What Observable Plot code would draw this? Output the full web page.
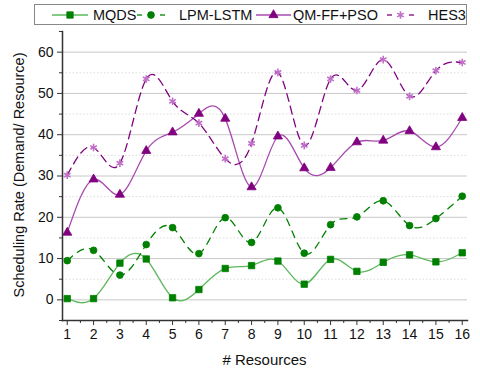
<!DOCTYPE html>
<html>
<head>
<meta charset="utf-8">
<script src="https://cdn.jsdelivr.net/npm/d3@7"></script>
<script src="https://cdn.jsdelivr.net/npm/@observablehq/plot@0.6"></script>
<style>
  html, body { margin: 0; padding: 0; background: #fff; }
  #wrap { position: relative; width: 480px; height: 371px; font-family: "Liberation Sans", Arial, sans-serif; }
  #legend { position: absolute; left: 0; top: 0; }
  #chart { position: absolute; left: 0; top: 0; }
</style>
</head>
<body>
<div id="wrap"><div id="chart"></div><div id="legend"></div></div>
<script>
const resources = [1,2,3,4,5,6,7,8,9,10,11,12,13,14,15,16];
const mqds  = [0.3,0.3,8.9,9.9,0.5,2.5,7.6,8.3,9.4,3.8,9.8,6.9,9.1,10.9,9.2,11.4];
const lpm   = [9.5,12.0,6.0,13.4,17.5,11.2,19.9,13.9,22.3,11.3,18.2,20.1,24.0,18.0,19.7,25.1];
const qm    = [16.3,29.2,25.5,36.1,40.6,45.1,43.9,27.3,39.6,31.9,32.0,38.2,38.6,40.9,37.0,44.1];
const hes3  = [30.2,36.9,33.1,53.5,48.1,42.8,34.2,37.9,55.1,37.4,53.5,50.7,58.2,49.3,55.5,57.5];
const seriesNames = ["MQDS", "LPM-LSTM", "QM-FF+PSO", "HES3"];
const yTicks = [0,10,20,30,40,50,60];
const yMinor = [-5,5,15,25,35,45,55,65];
const xMinor = [1.5,2.5,3.5,4.5,5.5,6.5,7.5,8.5,9.5,10.5,11.5,12.5,13.5,14.5,15.5];

const styles = [
  {values: mqds, line: "#5cb85c", mark: "#008000", dash: null, symbol: "square", r: 3.6, fill: true},
  {values: lpm,  line: "#008000", mark: "#008000", dash: "7,6", symbol: "circle", r: 3.4, fill: true},
  {values: qm,   line: "#a84bb0", mark: "#800080", dash: null, symbol: "triangle", r: 3.4, fill: true},
  {values: hes3, line: "#800080", mark: "#c070c8", dash: "8,5", symbol: "asterisk", r: 3.6, fill: false}
];

const marks = [
  Plot.ruleY(yTicks, {stroke: "#c8c8c8", strokeWidth: 1}),
  Plot.ruleY(yMinor.filter(v => v > -5 && v < 65), {stroke: "#dddddd", strokeWidth: 1, strokeDasharray: "1.5,2"}),
];
styles.forEach((s, i) => {
  const data = resources.map((x, j) => ({x, y: s.values[j]}));
  marks.push(Plot.line(data, {x: "x", y: "y", curve: "natural", stroke: s.line, strokeWidth: 1.3, strokeDasharray: s.dash || undefined}));
});
styles.forEach((s, i) => {
  const data = resources.map((x, j) => ({x, y: s.values[j]}));
  marks.push(Plot.dot(data, {x: "x", y: "y", symbol: s.symbol, r: s.r,
    fill: s.fill ? s.mark : "none", stroke: s.mark, strokeWidth: s.fill ? 0.8 : 1.6}));
});
marks.push(
  Plot.axisY({ticks: yTicks, tickSize: 5, tickPadding: 4, fontSize: 14, label: null, stroke: "#333", color: "#111"}),
  Plot.axisY({ticks: yMinor, tickSize: 3, text: null, label: null, stroke: "#333"}),
  Plot.axisX({ticks: resources, tickSize: 5, tickPadding: 4, fontSize: 14, label: null, stroke: "#333", color: "#111"}),
  Plot.axisX({ticks: xMinor, tickSize: 3, text: null, label: null, stroke: "#333"}),
  Plot.frame({anchor: "left", stroke: "#333", strokeWidth: 1.5}),
  Plot.frame({anchor: "bottom", stroke: "#333", strokeWidth: 1.5})
);

const chart = Plot.plot({
  width: 480, height: 371,
  marginLeft: 62, marginRight: 13, marginTop: 31, marginBottom: 51,
  x: {domain: [0.82, 16.2]},
  y: {domain: [-5, 65]},
  style: {fontFamily: "'Liberation Sans', Arial, sans-serif", fontSize: "14px", background: "#fff"},
  marks
});
document.getElementById("chart").appendChild(chart);

// axis titles
const svg = d3.select(chart);
svg.append("text").attr("x", 264.5).attr("y", 365).attr("text-anchor", "middle")
  .attr("font-size", 15).attr("fill", "#111").text("# Resources");
svg.append("text").attr("transform", "translate(24,175) rotate(-90)").attr("text-anchor", "middle")
  .attr("font-size", 14.5).attr("fill", "#111").text("Scheduling Rate (Demand/ Resource)");

// legend
const lg = d3.select("#legend").append("svg").attr("width", 480).attr("height", 30)
  .style("font-family", "'Liberation Sans', Arial, sans-serif");
lg.append("rect").attr("x", 34.5).attr("y", 4.5).attr("width", 432).attr("height", 20)
  .attr("fill", "#fff").attr("stroke", "#888");
const legendPos = [
  {x0: 52, x1: 88, tx: 93},
  {x0: 137, x1: 165, tx: 179},
  {x0: 256, x1: 291, tx: 293},
  {x0: 387, x1: 414, tx: 428}
];
styles.forEach((s, i) => {
  const p = legendPos[i];
  const cx = (p.x0 + p.x1) / 2;
  if (s.dash) {
    lg.append("line").attr("x1", p.x0).attr("x2", p.x0 + 5).attr("y1", 15).attr("y2", 15)
      .attr("stroke", s.line).attr("stroke-width", 1.3);
    lg.append("line").attr("x1", p.x1 - 5).attr("x2", p.x1).attr("y1", 15).attr("y2", 15)
      .attr("stroke", s.line).attr("stroke-width", 1.3);
  } else {
    lg.append("line").attr("x1", p.x0).attr("x2", p.x1).attr("y1", 15).attr("y2", 15)
      .attr("stroke", s.line).attr("stroke-width", 1.3);
  }
  const symMap = {square: d3.symbolSquare, circle: d3.symbolCircle, triangle: d3.symbolTriangle, asterisk: d3.symbolAsterisk};
  lg.append("path").attr("transform", `translate(${cx},15)`)
    .attr("d", d3.symbol(symMap[s.symbol], Math.PI * s.r * s.r)())
    .attr("fill", s.fill ? s.mark : "none").attr("stroke", s.mark).attr("stroke-width", s.fill ? 0.8 : 1.6);
  lg.append("text").attr("x", p.tx).attr("y", 20).attr("font-size", 14.5).attr("fill", "#111").text(seriesNames[i]);
});
</script>
</body>
</html>
